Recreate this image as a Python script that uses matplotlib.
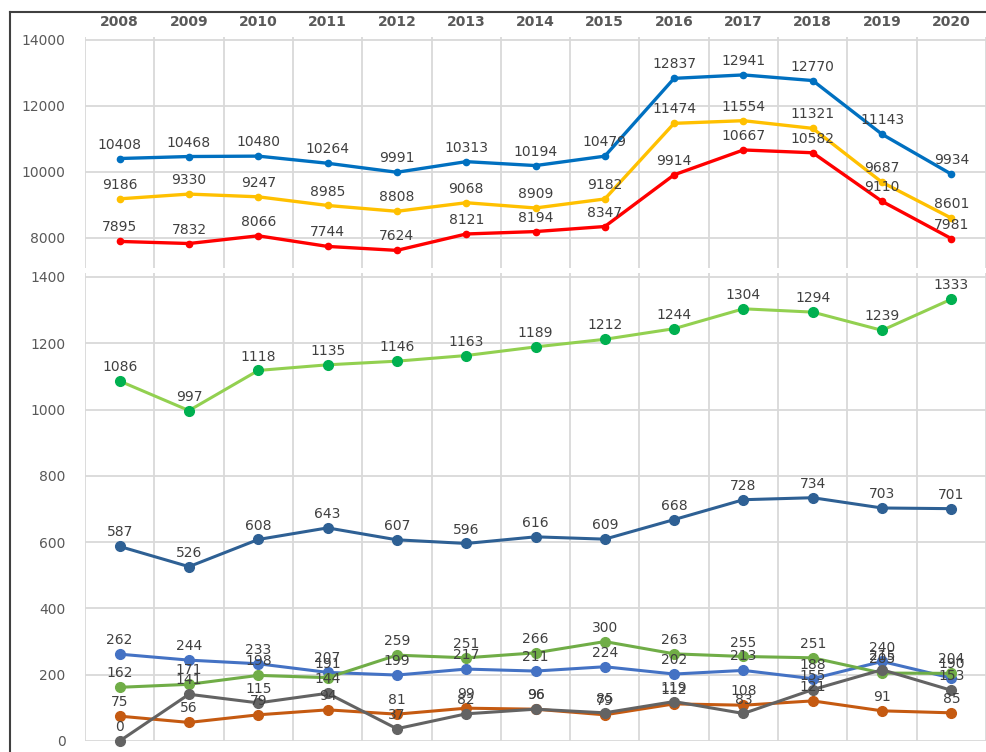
import numpy as np
import matplotlib.pyplot as plt
from matplotlib.lines import Line2D

years = ['2008', '2009', '2010', '2011', '2012', '2013', '2014',
         '2015', '2016', '2017', '2018', '2019', '2020']

# upper panel
top_blue = [10408, 10468, 10480, 10264, 9991, 10313, 10194, 10479, 12837, 12941, 12770, 11143, 9934]
top_yellow = [9186, 9330, 9247, 8985, 8808, 9068, 8909, 9182, 11474, 11554, 11321, 9687, 8601]
top_red = [7895, 7832, 8066, 7744, 7624, 8121, 8194, 8347, 9914, 10667, 10582, 9110, 7981]

# lower panel
low_lightgreen = [1086, 997, 1118, 1135, 1146, 1163, 1189, 1212, 1244, 1304, 1294, 1239, 1333]
low_darkblue = [587, 526, 608, 643, 607, 596, 616, 609, 668, 728, 734, 703, 701]
low_blue = [262, 244, 233, 207, 199, 217, 211, 224, 202, 213, 188, 240, 190]
low_green = [162, 171, 198, 191, 259, 251, 266, 300, 263, 255, 251, 205, 204]
low_orange = [75, 56, 79, 94, 81, 99, 96, 79, 112, 108, 121, 91, 85]
low_gray = [0, 141, 115, 144, 37, 82, 96, 85, 119, 83, 155, 215, 153]

x = np.arange(len(years))
grid_c = '#d9d9d9'
txt_c = '#595959'
lbl_c = '#404040'

fig = plt.figure(figsize=(9.86, 7.52), dpi=100)
ax_top = fig.add_axes([85/986, 1 - 268/752, 901/986, 231/752])
ax_low = fig.add_axes([85/986, 1 - 741/752, 901/986, 468/752])


def style(ax, ylim, yticks):
    ax.set_xlim(-0.5, len(years) - 0.5)
    ax.set_ylim(*ylim)
    ax.set_yticks(yticks)
    ax.set_xticks(x)
    ax.set_xticks(np.arange(len(years) + 1) - 0.5, minor=True)
    ax.grid(True, which='minor', axis='x', color=grid_c, lw=1.3)
    ax.grid(True, which='major', axis='y', color=grid_c, lw=1.3)
    ax.set_axisbelow(True)
    for s in ax.spines.values():
        s.set_visible(False)
    ax.tick_params(which='both', length=0)
    ax.tick_params(axis='y', pad=14, labelsize=10, labelcolor=txt_c)


def series(ax, vals, lc, mc, ms, lw):
    ax.plot(x, vals, color=lc, lw=lw, marker='o', ms=ms, mfc=mc, mec=mc,
            clip_on=False, zorder=3)
    for xi, v in zip(x, vals):
        ax.annotate(str(v), (xi, v), xytext=(0, 5), textcoords='offset points',
                    ha='center', va='bottom', fontsize=10, color=lbl_c, zorder=4)


style(ax_top, (7090, 14090), [8000, 10000, 12000, 14000])
ax_top.xaxis.tick_top()
ax_top.set_xticklabels(years, fontsize=10, color=txt_c, fontweight='bold')
ax_top.tick_params(axis='x', pad=6)

style(ax_low, (0, 1412), [0, 200, 400, 600, 800, 1000, 1200, 1400])
ax_low.set_xticklabels([])

series(ax_top, top_blue, '#0070c0', '#0070c0', 4.5, 2.4)
series(ax_top, top_yellow, '#ffc000', '#ffc000', 4.5, 2.4)
series(ax_top, top_red, '#ff0000', '#ff0000', 4.5, 2.4)

series(ax_low, low_lightgreen, '#92d050', '#00b050', 7, 2.2)
series(ax_low, low_darkblue, '#2e6094', '#2e6094', 7, 2.2)
series(ax_low, low_blue, '#4472c4', '#4472c4', 7, 2.2)
series(ax_low, low_green, '#70ad47', '#70ad47', 7, 2.2)
series(ax_low, low_orange, '#c55a11', '#c55a11', 7, 2.2)
series(ax_low, low_gray, '#636363', '#636363', 7, 2.2)

# outer frame (top and left edges)
fig.add_artist(Line2D([10/986, 10/986], [0, 1 - 12/752], color='#404040', lw=1.5))
fig.add_artist(Line2D([10/986, 1], [1 - 12/752, 1 - 12/752], color='#404040', lw=1.5))

fig.savefig('out.png', dpi=100)
